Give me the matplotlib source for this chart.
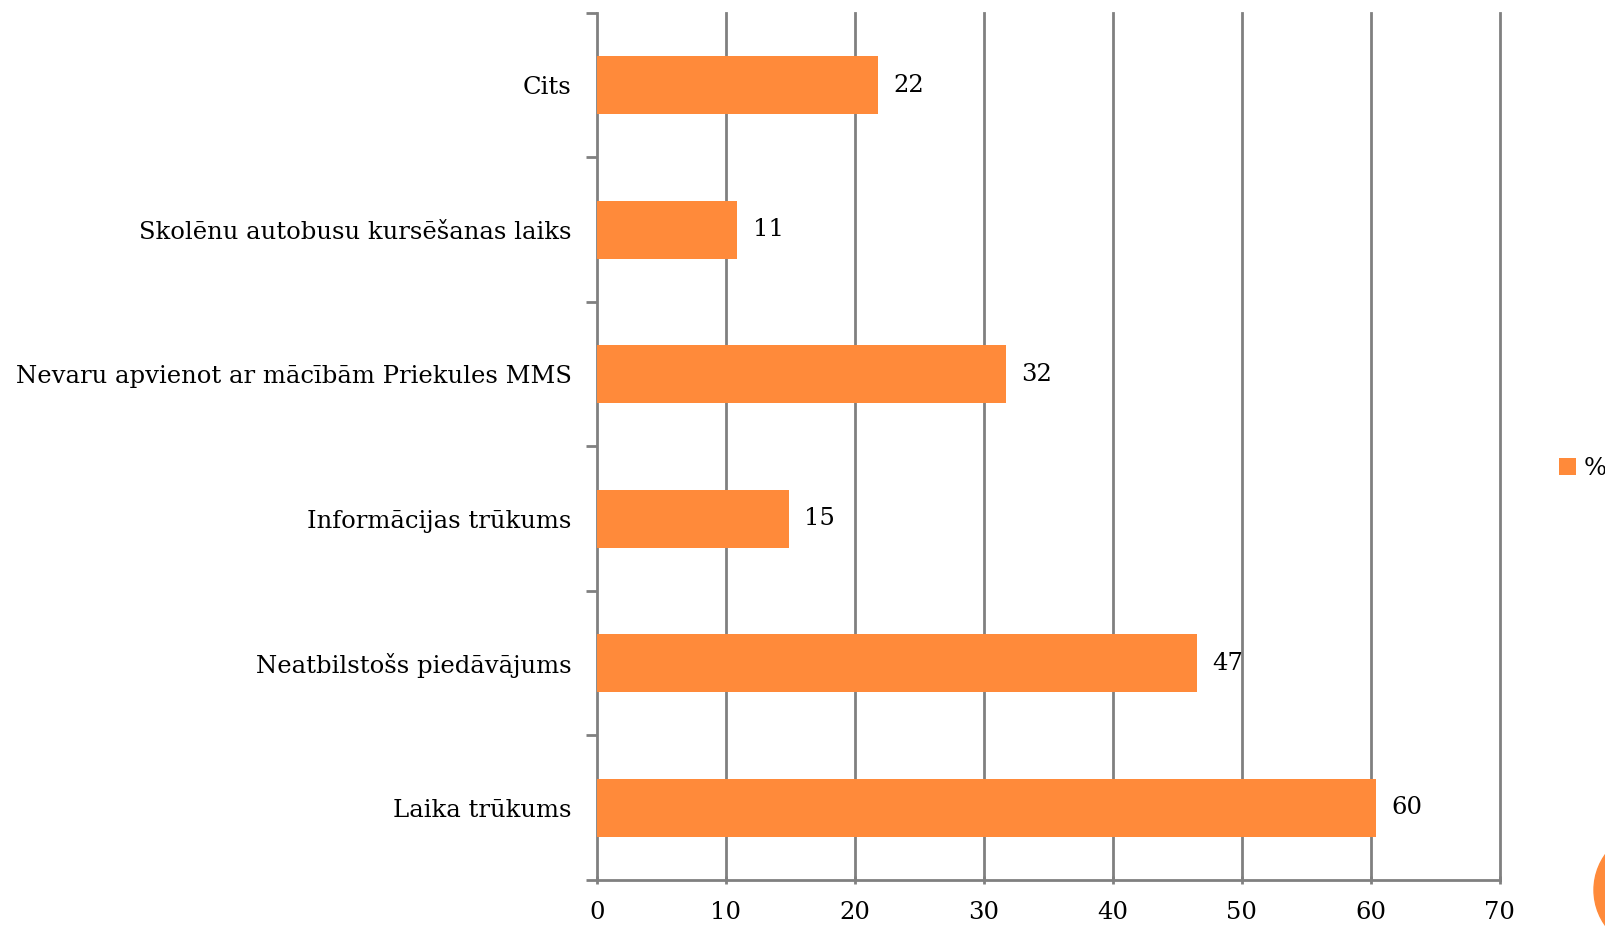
import matplotlib.pyplot as plt
import matplotlib.patches as patches

categories = ["Laika trūkums", "Neatbilstošs piedāvājums", "Informācijas trūkums",
              "Nevaru apvienot ar mācībām Priekules MMS",
              "Skolēnu autobusu kursēšanas laiks", "Cits"]
values = [60.4, 46.5, 14.9, 31.7, 10.9, 21.8]
value_labels = ["60", "47", "15", "32", "11", "22"]
x_ticks = [0, 10, 20, 30, 40, 50, 60, 70]

orange = "#FF8A3A"
gray = "#808080"

plt.rcParams["font.family"] = ["DejaVu Serif"]

fig = plt.figure(figsize=(16.05, 9.27), dpi=100)
ax = fig.add_axes([0.3718, 0.0507, 0.5626, 0.9353])

ypos = range(len(categories))
ax.barh(ypos, values, height=0.4, color=orange, zorder=3, label="%")
for y, v, lab in zip(ypos, values, value_labels):
    ax.text(v + 1.2, y, lab, va="center", ha="left", fontsize=17.5)

ax.set_xlim(0, 70)
ax.set_ylim(-0.5, len(categories) - 0.5)
ax.set_xticks(x_ticks)
ax.set_xticklabels([str(t) for t in x_ticks], fontsize=17.5)
ax.set_yticks(list(ypos))
ax.set_yticklabels(categories, fontsize=17.5)
ax.tick_params(axis="y", length=0, pad=18)
ax.set_yticks([i - 0.5 for i in range(len(categories) + 1)], minor=True)
ax.tick_params(axis="y", which="minor", length=8, width=2, color=gray, direction="out")
ax.tick_params(axis="x", length=6, width=2, color=gray, direction="inout", pad=12)

for t in x_ticks[1:]:
    ax.axvline(t, color=gray, linewidth=2, zorder=0, clip_on=False)
for side in ["top", "right"]:
    ax.spines[side].set_visible(False)
for side in ["left", "bottom"]:
    ax.spines[side].set_color(gray)
    ax.spines[side].set_linewidth(2)

ax.legend(loc="center left", bbox_to_anchor=(1.066, 0.475), frameon=False,
          fontsize=17.5, handlelength=0.7, handleheight=0.7, handletextpad=0.3,
          borderaxespad=0, borderpad=0)

# decorative circle in the corner (ellipse in figure coords -> round in pixels)
fig.patches.append(patches.Ellipse((1655 / 1605, 1 - 890 / 927), 122 / 1605, 122 / 927,
                                   transform=fig.transFigure, color=orange))

fig.savefig("out.png", dpi=100)
